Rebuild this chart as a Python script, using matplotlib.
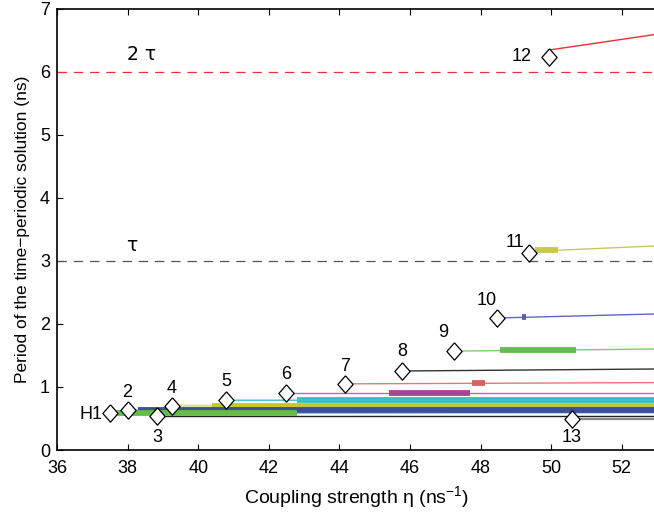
import matplotlib
matplotlib.use("Agg")
import matplotlib.pyplot as plt

plt.rcParams['font.family'] = ['Liberation Sans', 'DejaVu Sans']
plt.rcParams['mathtext.fontset'] = 'custom'
plt.rcParams['mathtext.rm'] = 'Liberation Sans'
plt.rcParams['mathtext.it'] = 'Liberation Sans:italic'

# Hopf points
hopf_labels = ['H1', '2', '3', '4', '5', '6', '7', '8', '9', '10', '11', '12', '13']
hopf_x = [37.5, 38.0, 38.83, 39.26, 40.79, 42.49, 44.16, 45.77, 47.25, 48.46, 49.37, 49.94, 50.59]
hopf_y = [0.59, 0.63, 0.54, 0.70, 0.79, 0.90, 1.05, 1.25, 1.57, 2.09, 3.12, 6.24, 0.49]
label_x = [37.3, 38.0, 38.83, 39.26, 40.79, 42.49, 44.16, 45.77, 46.94, 48.18, 48.97, 49.46, 50.59]
label_y = [0.57, 0.92, 0.20, 0.98, 1.08, 1.20, 1.33, 1.56, 1.86, 2.37, 3.30, 6.24, 0.20]

# Thin (unstable) branch lines: start x, start y, end x, end y
branch_x0 = [37.5, 38.0, 38.83, 39.26, 40.79, 42.49, 44.16, 45.77, 47.25, 48.46, 49.37, 49.96, 50.59]
branch_y0 = [0.58, 0.63, 0.54, 0.70, 0.79, 0.905, 1.05, 1.254, 1.57, 2.095, 3.15, 6.35, 0.49]
branch_x1 = [53.0] * 13
branch_y1 = [0.59, 0.635, 0.54, 0.706, 0.794, 0.905, 1.07, 1.286, 1.603, 2.16, 3.24, 6.60, 0.49]
branch_colors = ['#8fcf7f', '#5566b0', '#222222', '#dede9a', '#3bbfc4', '#b070b0',
                 '#e07a7a', '#333333', '#80cc70', '#6066bb', '#c8c860', '#ee3030', '#888888']
branch_lw = [1.0, 1.0, 1.0, 2.0, 1.0, 1.0, 1.0, 1.0, 1.0, 1.0, 1.0, 1.0, 1.6]

# Thick (stable) segments: x start, x end, y
stable_x0 = [37.55, 38.3, 40.4, 42.8, 45.4, 47.76, 48.55, 49.18, 49.55]
stable_x1 = [42.8, 53.0, 53.0, 53.0, 47.7, 48.12, 50.7, 49.3, 50.2]
stable_y = [0.58, 0.635, 0.706, 0.794, 0.905, 1.063, 1.59, 2.11, 3.17]
stable_colors = ['#66bb4e', '#3a4f9e', '#c5c82a', '#3cbfc4', '#a8449a', '#d46464',
                 '#66bb55', '#5a5fb8', '#c8c850']

# Reference lines
tau = 3.0
ref_y = [tau, 2 * tau]
ref_colors = ['#555555', '#ee3030']
ref_labels = ['τ', '2 τ']
ref_label_x = [38.12, 38.4]
ref_label_y = [3.25, 6.27]

fig = plt.figure(figsize=(6.54, 5.13), dpi=100)
ax = fig.add_axes([0.0872, 0.1228, 0.9174, 0.8597])
ax.set_xlim(36, 53)
ax.set_ylim(0, 7)

for y, c in zip(ref_y, ref_colors):
    ln, = ax.plot([36, 53], [y, y], color=c, lw=0.9)
    ln.set_dashes([7.5, 5.5])
for lab, lx, ly in zip(ref_labels, ref_label_x, ref_label_y):
    ax.text(lx, ly, lab, fontsize=13.5, ha='center', va='center',
            family=['DejaVu Sans'])

for i in range(len(branch_x0)):
    ax.plot([branch_x0[i], branch_x1[i]], [branch_y0[i], branch_y1[i]],
            color=branch_colors[i], lw=branch_lw[i], solid_capstyle='butt', zorder=2)

# draw wide bands in order so stacking matches
order = [3, 2, 1, 0, 4, 5, 6, 7, 8]
for k in order:
    ax.plot([stable_x0[k], stable_x1[k]], [stable_y[k], stable_y[k]],
            color=stable_colors[k], lw=4.2, solid_capstyle='butt', zorder=3)

diamond = [(0, 1), (0.88, 0), (0, -1), (-0.88, 0), (0, 1)]
ax.plot(hopf_x, hopf_y, linestyle='none', marker=diamond, markersize=12.5,
        mfc='white', mec='black', mew=0.9, zorder=5)

for i, lab in enumerate(hopf_labels):
    ha = 'right' if lab in ('H1', '12') else 'center'
    ax.text(label_x[i], label_y[i], lab, fontsize=13, ha=ha, va='center', zorder=6)

ax.set_xticks(range(36, 53, 2))
ax.set_yticks(range(0, 8))
ax.tick_params(direction='in', top=True, right=False, length=4, width=0.8,
               labelsize=13)
ax.tick_params(axis='x', pad=7)
ax.tick_params(axis='y', pad=5)
for s in ['left', 'bottom', 'top']:
    ax.spines[s].set_linewidth(1.2)
ax.spines['right'].set_visible(False)

ax.set_xlabel('Coupling strength η (ns$^{-1}$)', fontsize=14, labelpad=5)
ax.set_ylabel('Period of the time\u2212periodic solution (ns)', fontsize=12.5, labelpad=7)

fig.savefig('out.png', dpi=100)
